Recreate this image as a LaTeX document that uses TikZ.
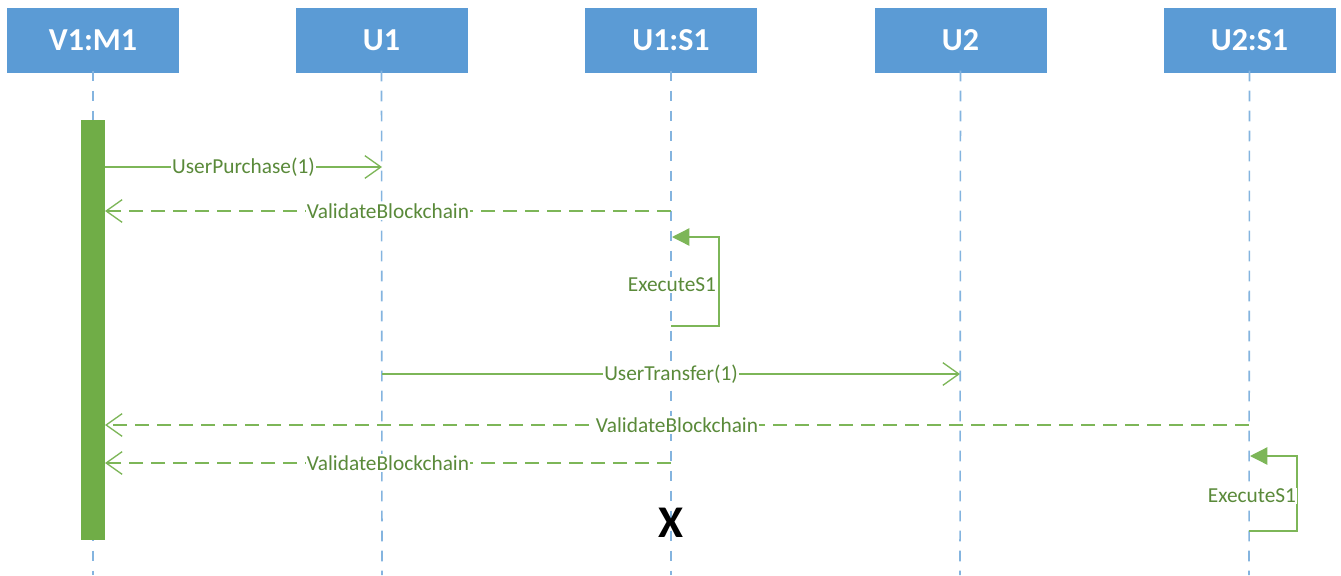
\documentclass[tikz,border=0pt]{standalone}
\usepackage{fontspec}
\setmainfont{Carlito}
\usetikzlibrary{arrows.meta}
\definecolor{HeadBlue}{RGB}{91,155,213}
\definecolor{BarGreen}{RGB}{112,173,71}
\definecolor{MsgGreen}{RGB}{125,182,88}
\definecolor{TextGreen}{RGB}{90,138,58}

\begin{document}
\begin{tikzpicture}[x=0.75pt,y=0.75pt,yscale=-1,xscale=1,
	header/.style={fill=HeadBlue, text=white, font=\fontsize{24}{28}\selectfont\bfseries, minimum width=129pt, minimum height=48.75pt, inner sep=0pt},
	lifeline/.style={HeadBlue!75, line width=1.2pt, dash pattern=on 8pt off 7pt},
	msg/.style={MsgGreen, line width=1pt, -{Straight Barb[length=12pt,width=17pt,line width=1pt]}},
	reply/.style={msg, dash pattern=on 10.5pt off 6pt},
	selfmsg/.style={MsgGreen, line width=1pt, -{Triangle[length=13pt,width=13pt]}},
	msglabel/.style={fill=white, text=TextGreen, inner sep=1pt, font=\fontsize{16}{18}\selectfont}]
	\useasboundingbox (0,0) rectangle (1341,575);

	% Headers
	\node [header] (v1m1) at (93,40.5) {V1:M1};
	\node [header] (u1) at (381.5,40.5) {U1};
	\node [header] (u1s1) at (671,40.5) {U1:S1};
	\node [header] (u2) at (960.5,40.5) {U2};
	\node [header] (u2s1) at (1249.5,40.5) {U2:S1};

	% Lifelines
	\coordinate (v1m1end) at (93,575);
	\coordinate (u1end) at (382,575);
	\coordinate (u1s1end) at (671,575);
	\coordinate (u2end) at (960,575);
	\coordinate (u2s1end) at (1249,575);
	\draw [lifeline] ([yshift=-2pt]v1m1.south) -- (v1m1end);
	\draw [lifeline] ([yshift=-2pt]u1.south) -- (u1end);
	\draw [lifeline] ([yshift=-2pt]u1s1.south) -- (u1s1end);
	\draw [lifeline] ([yshift=-2pt]u2.south) -- (u2end);
	\draw [lifeline] ([yshift=-2pt]u2s1.south) -- (u2s1end);

	% Activation bar
	\node [fill=BarGreen, inner sep=0pt, minimum width=18pt, minimum height=315pt] (bar) at (93,330) {};

	% Messages
	\coordinate (p1a) at (105,167);  \coordinate (p1b) at (382,167);
	\coordinate (p2a) at (671,211);  \coordinate (p2b) at (105,211);
	\coordinate (p3a) at (671,326);  \coordinate (p3b) at (672,237);
	\coordinate (p4a) at (382,374);  \coordinate (p4b) at (960,374);
	\coordinate (p5a) at (1249,425); \coordinate (p5b) at (105,425);
	\coordinate (p6a) at (671,463);  \coordinate (p6b) at (105,463);
	\coordinate (p7a) at (1249,531); \coordinate (p7b) at (1250,456);

	\draw [msg] (p1a) -- node [msglabel] (purchase) {UserPurchase(1)} (p1b);
	\draw [reply] (p2a) -- node [msglabel] (validate1) {ValidateBlockchain} (p2b);
	\draw [selfmsg] (p3a) -- ++(48,0) |- (p3b);
	\node [msglabel] (exec1) at (672,285) {ExecuteS1};
	\draw [msg] (p4a) -- node [msglabel] (transfer) {UserTransfer(1)} (p4b);
	\draw [reply] (p5a) -- node [msglabel] (validate2) {ValidateBlockchain} (p5b);
	\draw [reply] (p6a) -- node [msglabel] (validate3) {ValidateBlockchain} (p6b);
	\draw [selfmsg] (p7a) -- ++(48,0) |- (p7b);
	\node [msglabel] (exec2) at (1252,496) {ExecuteS1};

	% Destruction
	\node [font=\fontsize{34}{34}\selectfont\bfseries, inner sep=0pt] (kill) at (671,523) {X};
\end{tikzpicture}
\end{document}
